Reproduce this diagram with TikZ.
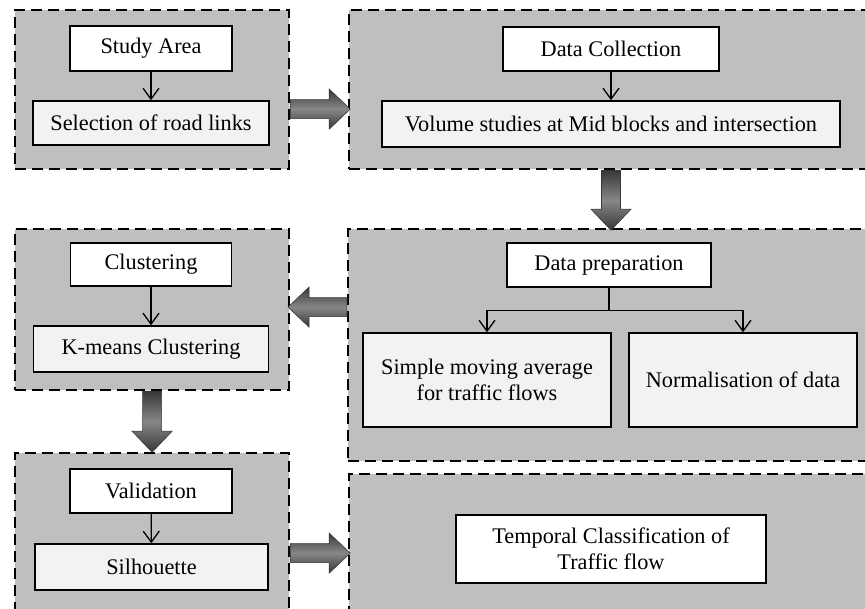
\documentclass[tikz,border=0pt]{standalone}
\usepackage{fontspec}
\setmainfont{Liberation Serif}
\usetikzlibrary{calc,arrows.meta}
\definecolor{outerg}{RGB}{191,191,191}
\definecolor{lightg}{RGB}{242,242,242}
\definecolor{arrdark}{RGB}{55,55,55}
\definecolor{arrmid}{RGB}{135,135,135}
\tikzset{
  outerbox/.style={draw=black, fill=outerg, dash pattern=on 11pt off 6pt, line width=2.2pt, inner sep=0pt, anchor=north west},
  whitebox/.style={draw=black, fill=white, line width=1.5pt, inner sep=0pt, align=center},
  lightbox/.style={draw=black, fill=lightg, line width=1.5pt, inner sep=0pt, align=center},
  smallarrow/.style={line width=1.3pt, -{Straight Barb[length=11pt,width=16pt,line width=1.3pt]}},
  hshade/.style={top color=arrdark, bottom color=arrdark, middle color=arrmid, draw=arrdark, line width=0.6pt},
  pics/fatarrow/.style={code={
    \shade[hshade] (0,-9.5) -- (#1-21,-9.5) -- (#1-21,-20) -- (#1,0) -- (#1-21,20) -- (#1-21,9.5) -- (0,9.5) -- cycle;
  }}
}
\begin{document}
\begin{tikzpicture}[x=1pt,y=-1pt,font=\fontsize{22.3}{26.5}\selectfont]
\useasboundingbox (0,0) rectangle (865,609);
\clip (0,0) rectangle (865,609);
% outer dashed boxes
\node[outerbox, minimum width=274pt, minimum height=159pt] (A) at (14,9) {};
\node[outerbox, minimum width=522pt, minimum height=159pt] (B) at (348,9) {};
\node[outerbox, minimum width=523pt, minimum height=232pt] (C) at (347,228) {};
\node[outerbox, minimum width=274pt, minimum height=161pt] (D) at (14,228) {};
\node[outerbox, minimum width=274pt, minimum height=170pt] (E) at (14,452) {};
\node[outerbox, minimum width=522pt, minimum height=150pt] (F) at (348,473) {};
% inner boxes
\node[whitebox, minimum width=162pt, minimum height=45pt] (sa) at (151,48.5) {Study Area};
\node[lightbox, minimum width=236pt, minimum height=44pt] (sel) at (151,123) {Selection of road links};
\node[whitebox, minimum width=216pt, minimum height=44pt] (dc) at (611,49) {Data Collection};
\node[lightbox, minimum width=458pt, minimum height=46pt] (vol) at (611,124) {Volume studies at Mid blocks and intersection};
\node[whitebox, minimum width=204pt, minimum height=44pt] (dp) at (609,265) {Data preparation};
\node[lightbox, minimum width=248pt, minimum height=94pt] (sma) at (487,380) {Simple moving average\\for traffic flows};
\node[lightbox, minimum width=228pt, minimum height=94pt] (norm) at (743,380) {Normalisation of data};
\node[whitebox, minimum width=161pt, minimum height=43pt] (cl) at (151,264.5) {Clustering};
\node[lightbox, minimum width=235pt, minimum height=46pt] (km) at (151,349) {K-means Clustering};
\node[whitebox, minimum width=162pt, minimum height=44pt] (val) at (151,491) {Validation};
\node[lightbox, minimum width=233pt, minimum height=46pt] (sil) at (151.5,567) {Silhouette};
\node[whitebox, minimum width=310pt, minimum height=68pt] (tc) at (611,549) {Temporal Classification of\\Traffic flow};
% small arrows
\draw[smallarrow] (sa) -- (sel);
\draw[smallarrow] (dc) -- (vol);
\draw[smallarrow] (cl) -- (km);
\draw[smallarrow] (val) -- (sil);
\coordinate (bj) at ($(dp.south)+(0,23)$);
\draw[line width=1.3pt] (dp.south) -- (bj);
\draw[smallarrow] (bj) -| (sma.north);
\draw[smallarrow] (bj) -| (norm.north);
% big arrows
\pic at ($(A.east)+(0,19.5)$) {fatarrow=60};
\pic[rotate=-90] at (dc.south |- B.south) {fatarrow=60};
\pic[rotate=180] at ($(C.west)+(0,-38)$) {fatarrow=59};
\pic[rotate=-90] at (D.south) {fatarrow=61};
\pic at ($(E.east)+(0,15)$) {fatarrow=60};
\end{tikzpicture}
\end{document}
